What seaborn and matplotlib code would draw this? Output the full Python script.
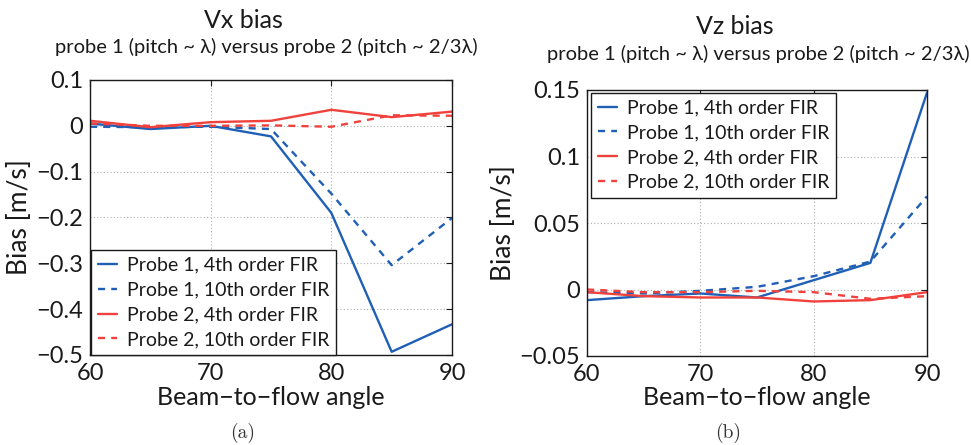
import matplotlib
matplotlib.use("Agg")
import matplotlib.pyplot as plt
import seaborn as sns
import pandas as pd

sns.set_theme(style="white")
plt.rcParams["font.family"] = ["Lato", "DejaVu Sans"]

angles = [60, 65, 70, 75, 80, 85, 90]

# Vx bias [m/s]
vx_p1_fir4 = [0.005, -0.007, 0.0, -0.023, -0.19, -0.493, -0.433]
vx_p1_fir10 = [-0.002, -0.003, -0.002, -0.007, -0.148, -0.304, -0.201]
vx_p2_fir4 = [0.011, -0.003, 0.008, 0.011, 0.035, 0.019, 0.031]
vx_p2_fir10 = [0.005, 0.0, 0.0, 0.001, -0.002, 0.023, 0.022]

# Vz bias [m/s]
vz_p1_fir4 = [-0.008, -0.005, -0.003, -0.006, 0.007, 0.020, 0.148]
vz_p1_fir10 = [-0.002, -0.003, -0.001, 0.002, 0.010, 0.021, 0.070]
vz_p2_fir4 = [-0.002, -0.005, -0.006, -0.006, -0.009, -0.008, -0.002]
vz_p2_fir10 = [0.0, -0.002, -0.002, -0.001, -0.002, -0.007, -0.005]

series_labels = ["Probe 1, 4th order FIR", "Probe 1, 10th order FIR",
                 "Probe 2, 4th order FIR", "Probe 2, 10th order FIR"]

panel_titles = ["Vx bias", "Vz bias"]
subtitle = "probe 1 (pitch ~ λ) versus probe 2 (pitch ~ 2/3λ)"
captions = ["(a)", "(b)"]
xticks = [60, 70, 80, 90]
yticks_vx = [0.1, 0, -0.1, -0.2, -0.3, -0.4, -0.5]
yticks_vz = [0.15, 0.1, 0.05, 0, -0.05]

BLUE = "#1f5fb5"
RED = "#f0413d"
INK = "#1a1a1a"
styles = [(BLUE, "-"), (BLUE, (0, (3, 2.6))), (RED, "-"), (RED, (0, (3, 2.6)))]

W, H = 971, 445
fig = plt.figure(figsize=(W / 100, H / 100), dpi=100)


def px_axes(x0, y0, x1, y1):
    return fig.add_axes([x0 / W, 1 - y1 / H, (x1 - x0) / W, (y1 - y0) / H])


ax1 = px_axes(90, 80, 452, 355)
ax2 = px_axes(587, 90, 927, 356)


def fmt(v):
    return f"{v:g}".replace("-", "\u2212")


def draw(ax, data, ylim, yticks, ylabel_x):
    for (color, ls), vals, lab in zip(styles, data, series_labels):
        df = pd.DataFrame({"angle": angles, "bias": vals})
        sns.lineplot(data=df, x="angle", y="bias", ax=ax, color=color,
                     linestyle=ls, linewidth=1.7, label=lab)
    ax.set_xlim(60, 90)
    ax.set_ylim(*ylim)
    ax.set_xticks(xticks)
    ax.set_xticklabels([str(t) for t in xticks])
    ax.set_yticks(yticks)
    ax.set_yticklabels([fmt(v) for v in yticks])
    ax.grid(True, color="#b0b0b0", linestyle=(0, (1, 2)), linewidth=0.8)
    ax.tick_params(direction="in", length=4, width=0.8, labelsize=17,
                   colors=INK, top=True, right=True)
    ax.tick_params(axis="y", pad=5)
    ax.tick_params(axis="x", pad=6)
    for s in ax.spines.values():
        s.set_color(INK)
        s.set_linewidth(1.0)
    ax.set_xlabel("Beam\u2212to\u2212flow angle", fontsize=18, color=INK)
    ax.set_ylabel("Bias [m/s]", fontsize=19, color=INK)
    ax.xaxis.set_label_coords(0.5, -0.155)
    ax.xaxis.label.set_va("center")
    ax.yaxis.set_label_coords(ylabel_x, 0.5)
    ax.yaxis.label.set_va("center")


draw(ax1, [vx_p1_fir4, vx_p1_fir10, vx_p2_fir4, vx_p2_fir10], (-0.5, 0.1),
     yticks_vx, -0.196)
draw(ax2, [vz_p1_fir4, vz_p1_fir10, vz_p2_fir4, vz_p2_fir10], (-0.05, 0.15),
     yticks_vz, -0.247)

leg_kw = dict(fontsize=14, frameon=True, fancybox=False, edgecolor=INK,
              handlelength=1.0, handletextpad=0.5, labelspacing=0.4,
              borderpad=0.35, borderaxespad=0.0)
l1 = ax1.legend(loc="lower left", bbox_to_anchor=(0.003, 0.0), **leg_kw)
l2 = ax2.legend(loc="upper left", bbox_to_anchor=(0.012, 0.99), **leg_kw)
for lg in (l1, l2):
    lg.get_frame().set_linewidth(1.0)
    lg.get_frame().set_alpha(1)
    for t in lg.get_texts():
        t.set_color(INK)

# panel titles, subtitles and captions (pixel positions)
heads = [(243, 20, 266, 47, 243), (735, 27, 758, 54, 728)]
for title, cap, (tx, ty, sx, sy, cx) in zip(panel_titles, captions, heads):
    fig.text(tx / W, 1 - ty / H, title, fontsize=18, ha="center", va="center", color=INK)
    fig.text(sx / W, 1 - sy / H, subtitle, fontsize=14.5, ha="center", va="center", color=INK)
    fig.text(cx / W, 1 - 433 / H, cap, fontsize=14, ha="center", va="center",
             family=["cmr10", "DejaVu Serif"], color="#333333")

fig.savefig("out.png", dpi=100)
